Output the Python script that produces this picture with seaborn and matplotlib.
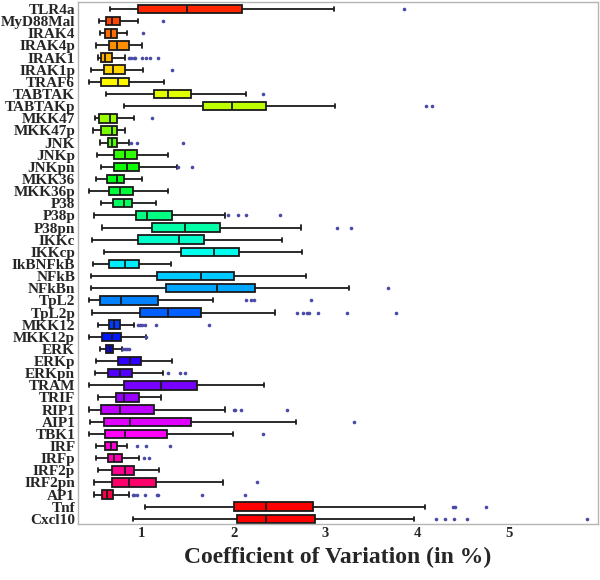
import numpy as np
import pandas as pd
import matplotlib
matplotlib.use("Agg")
import matplotlib.pyplot as plt
import seaborn as sns
from matplotlib.ticker import MultipleLocator

# ------------------------------------------
# DATA
# ------------------------------------------

species = [
    "TLR4a", "MyD88Mal", "IRAK4", "IRAK4p", "IRAK1", "IRAK1p", "TRAF6",
    "TABTAK", "TABTAKp", "MKK47", "MKK47p", "JNK", "JNKp", "JNKpn",
    "MKK36", "MKK36p", "P38", "P38p", "P38pn", "IKKc", "IKKcp", "IkBNFkB",
    "NFkB", "NFkBn", "TpL2", "TpL2p", "MKK12", "MKK12p", "ERK", "ERKp",
    "ERKpn", "TRAM", "TRIF", "RIP1", "AIP1", "TBK1", "IRF", "IRFp",
    "IRF2p", "IRF2pn", "AP1", "Tnf", "Cxcl10",
]

whisker_lo = [0.65, 0.53, 0.54, 0.50, 0.52, 0.45, 0.43, 0.61, 0.81, 0.49,
              0.47, 0.55, 0.51, 0.56, 0.50, 0.42, 0.56, 0.48, 0.57, 0.46,
              0.59, 0.47, 0.45, 0.45, 0.42, 0.46, 0.52, 0.43, 0.55, 0.50,
              0.49, 0.43, 0.52, 0.42, 0.44, 0.43, 0.50, 0.50, 0.52, 0.48,
              0.48, 1.03, 0.90]
q1 = [0.96, 0.61, 0.60, 0.64, 0.56, 0.59, 0.56, 1.13, 1.67, 0.53,
      0.56, 0.63, 0.70, 0.70, 0.62, 0.64, 0.69, 0.94, 1.11, 0.96,
      1.43, 0.64, 1.17, 1.26, 0.54, 0.98, 0.64, 0.57, 0.61, 0.74,
      0.63, 0.81, 0.72, 0.56, 0.59, 0.60, 0.60, 0.63, 0.68, 0.67,
      0.57, 2.00, 2.04]
median = [1.49, 0.67, 0.66, 0.73, 0.60, 0.69, 0.74, 1.29, 1.98, 0.65,
          0.67, 0.68, 0.82, 0.84, 0.73, 0.76, 0.81, 1.06, 1.47, 1.40,
          1.79, 0.82, 1.65, 1.82, 0.77, 1.29, 0.70, 0.67, 0.65, 0.87,
          0.76, 1.21, 0.81, 0.76, 0.87, 0.82, 0.66, 0.70, 0.82, 0.86,
          0.62, 2.35, 2.35]
q3 = [2.09, 0.76, 0.73, 0.86, 0.68, 0.82, 0.86, 1.54, 2.35, 0.73,
      0.73, 0.73, 0.95, 0.97, 0.81, 0.90, 0.89, 1.33, 1.85, 1.68,
      2.06, 0.97, 2.00, 2.23, 1.18, 1.65, 0.76, 0.77, 0.69, 0.99,
      0.89, 1.60, 0.97, 1.13, 1.54, 1.27, 0.73, 0.78, 0.91, 1.15,
      0.69, 2.87, 2.89]
whisker_hi = [3.09, 0.96, 0.84, 1.00, 0.82, 1.01, 1.24, 2.14, 3.11, 0.92,
              0.82, 0.86, 1.29, 1.38, 1.00, 1.29, 1.16, 1.91, 2.73, 2.53,
              2.74, 1.32, 2.79, 3.26, 1.78, 2.45, 0.92, 1.05, 0.78, 1.33,
              1.23, 2.33, 1.21, 1.91, 2.68, 1.99, 0.84, 0.97, 1.19, 1.88,
              0.86, 4.09, 3.96]

# outliers: species name and value
outlier_species = (
    ["TLR4a", "MyD88Mal", "IRAK4"]
    + ["IRAK1"] * 8 + ["IRAK1p", "TABTAK", "TABTAKp", "TABTAKp", "MKK47"]
    + ["JNK"] * 3 + ["JNKpn"] * 2 + ["P38p"] * 4 + ["P38pn"] * 2
    + ["NFkBn"] + ["TpL2"] * 4 + ["TpL2p"] * 7 + ["MKK12"] * 6
    + ["MKK12p"] + ["ERK"] * 4 + ["ERKpn"] * 3 + ["RIP1"] * 4
    + ["AIP1", "TBK1"] + ["IRF"] * 3 + ["IRFp"] * 2 + ["IRF2pn"]
    + ["AP1"] * 8 + ["Tnf"] * 3 + ["Cxcl10"] * 5
)
outlier_values = [
    3.86, 1.23, 1.01,
    0.86, 0.88, 0.91, 0.93, 1.00, 1.05, 1.09, 1.18,
    1.33, 2.32, 4.10, 4.16, 1.11,
    0.88, 0.95, 1.45,
    1.39, 1.55,
    1.94, 2.05, 2.13, 2.51,
    3.13, 3.28,
    3.68,
    2.14, 2.19, 2.22, 2.84,
    2.69, 2.76, 2.80, 2.82, 2.92, 3.23, 3.77,
    0.96, 0.98, 1.00, 1.03, 1.15, 1.73,
    1.05,
    0.80, 0.82, 0.84, 0.86,
    1.28, 1.42, 1.47,
    2.00, 2.02, 2.08, 2.58,
    3.31, 2.32,
    0.95, 1.05, 1.31,
    1.02, 1.08,
    2.25,
    0.90, 0.92, 0.95, 1.04, 1.17, 1.18, 1.66, 2.12,
    4.39, 4.41, 4.75,
    4.20, 4.30, 4.40, 4.54, 5.85,
]

# ------------------------------------------
# BUILD LONG TABLES
# ------------------------------------------

# five points per species give exactly these quartiles and whisker ends
box_df = pd.DataFrame({
    "species": np.repeat(species, 5),
    "cv": np.column_stack([whisker_lo, q1, median, q3, whisker_hi]).ravel(),
})
out_df = pd.DataFrame({"species": outlier_species, "cv": outlier_values})

# hue wheel for the 41 proteins, Tnf and Cxcl10 in red
colors = sns.hls_palette(43, h=1 / 43, l=0.5, s=1.0)[:41]
colors += [(1.0, 0.0, 0.0), (1.0, 0.0, 0.0)]

# ------------------------------------------
# PLOT
# ------------------------------------------

sns.set_style("white")
plt.rcParams["font.family"] = ["Liberation Serif", "DejaVu Serif"]

fig = plt.figure(figsize=(6.0, 5.8), dpi=100)
ax = fig.add_axes([0.13, 0.0966, 0.8667, 0.9000])

sns.boxplot(
    data=box_df, x="cv", y="species", hue="species", order=species,
    hue_order=species, palette=colors, legend=False, saturation=1,
    width=0.7, whis=(0, 100), showfliers=False,
    linewidth=1.3, linecolor="#1a1a1a", ax=ax,
)
sns.stripplot(
    data=out_df, x="cv", y="species", order=species, jitter=False,
    color="#4a4aa8", size=2.6, linewidth=0, ax=ax,
)

ax.set_xlim(0.305, 5.97)
ax.set_ylim(42.42, -0.58)

ax.xaxis.set_major_locator(MultipleLocator(1))
ax.xaxis.set_minor_locator(MultipleLocator(0.2))
ax.tick_params(axis="x", which="major", direction="in", length=4,
               width=0.8, color="#999999", pad=2, labelsize=10.5)
ax.tick_params(axis="x", which="minor", direction="in", length=2,
               width=0.6, color="#999999")
ax.tick_params(axis="y", which="major", direction="in", length=2,
               width=0.6, color="#999999", pad=2, labelsize=11)
for lab in ax.get_xticklabels() + ax.get_yticklabels():
    lab.set_fontweight("bold")

for side in ["left", "right", "top", "bottom"]:
    ax.spines[side].set_color("#b5b5b5")
    ax.spines[side].set_linewidth(1.0)

ax.set_ylabel("")
ax.set_xlabel("Coefficient of Variation (in %)", fontsize=17,
              fontweight="bold", labelpad=5)

fig.savefig("out.png", dpi=100)
